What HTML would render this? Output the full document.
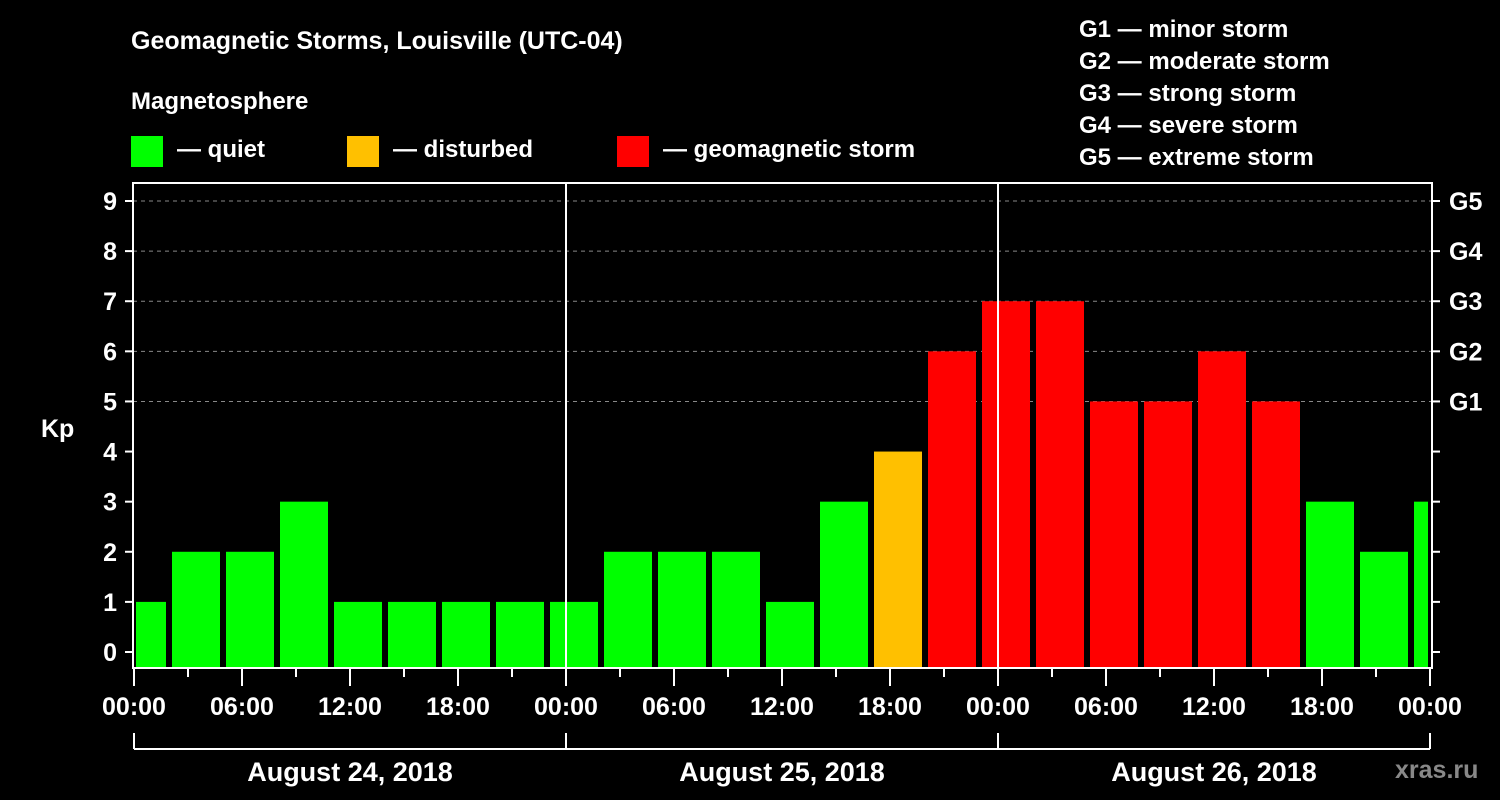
<!DOCTYPE html>
<html><head><meta charset="utf-8"><style>
body{margin:0;background:#000;}
svg{display:block;font-family:"Liberation Sans",sans-serif;font-weight:bold;}
</style></head><body>
<svg id="c" width="1500" height="800" viewBox="0 0 1500 800">
<rect width="1500" height="800" fill="#000"/>
<text x="131" y="49" fill="#fff" font-size="25">Geomagnetic Storms, Louisville (UTC-04)</text>
<text x="131" y="109" fill="#fff" font-size="24">Magnetosphere</text>
<g><rect x="131" y="136" width="32" height="31" fill="#00ff00"/><text x="177" y="157" fill="#fff" font-size="24">— quiet</text></g>
<g><rect x="347" y="136" width="32" height="31" fill="#ffc000"/><text x="393" y="157" fill="#fff" font-size="24">— disturbed</text></g>
<g><rect x="617" y="136" width="32" height="31" fill="#ff0000"/><text x="663" y="157" fill="#fff" font-size="24">— geomagnetic storm</text></g>
<g fill="#fff" font-size="24">
<text x="1079" y="37">G1 — minor storm</text>
<text x="1079" y="69">G2 — moderate storm</text>
<text x="1079" y="101">G3 — strong storm</text>
<text x="1079" y="133">G4 — severe storm</text>
<text x="1079" y="165">G5 — extreme storm</text>
</g>
<text x="41" y="437" fill="#fff" font-size="25">Kp</text>
<text x="1395" y="778" fill="#888" font-size="25">xras.ru</text>
<g id="plot"></g>
</svg>
<script>
const kpValues=[1,2,2,3,1,1,1,1,1,2,2,2,1,3,4,6,7,7,5,5,6,5,3,2,3];
const timeTickLabels=["00:00","06:00","12:00","18:00","00:00","06:00","12:00","18:00","00:00","06:00","12:00","18:00","00:00"];
const dayLabels=["August 24, 2018","August 25, 2018","August 26, 2018"];
const gLabels=["G1","G2","G3","G4","G5"];
const NS="http://www.w3.org/2000/svg";
const g=document.getElementById('plot');
const L=133,R=1432,T=183,B=668;
const x=h=>134+h*(1430-134)/72;
const y=k=>652-k*(652-201)/9;
function mk(t,a){const e=document.createElementNS(NS,t);for(const k in a)e.setAttribute(k,a[k]);g.appendChild(e);return e;}
// grid
for(let k=5;k<=9;k++){const e=mk('line',{x1:L,x2:R,y1:y(k),y2:y(k),stroke:'#888','stroke-dasharray':'4,4','stroke-width':1});

}
// bars
kpValues.forEach((v,i)=>{
 let x0=x(i*3-1)+2,x1=x(i*3+2)-4;
 x0=Math.max(x0,136);x1=Math.min(x1,1428);
 const col=v>=5?'#ff0000':(v>=4?'#ffc000':'#00ff00');
 const e=mk('rect',{x:x0,y:y(v),width:x1-x0,height:B-y(v),fill:col});
 
 
});
// frame
const f=mk('rect',{x:L,y:T,width:R-L,height:B-T,fill:'none',stroke:'#fff','stroke-width':2});


[1,2].forEach(d=>{const e=mk('line',{x1:x(d*24),x2:x(d*24),y1:T,y2:B,stroke:'#fff','stroke-width':2});

});
// y ticks
for(let k=0;k<=9;k++){
 mk('line',{x1:L-8,x2:L,y1:y(k),y2:y(k),stroke:'#fff','stroke-width':2});
 mk('line',{x1:R,x2:R+8,y1:y(k),y2:y(k),stroke:'#fff','stroke-width':2});
 const t=mk('text',{x:117,y:y(k)+9,fill:'#fff','font-size':25,'text-anchor':'end'});t.textContent=k;
 
 
 if(k>=5){const r=mk('text',{x:1449,y:y(k)+9,fill:'#fff','font-size':25});r.textContent=gLabels[k-5];
 
 }
}
// x ticks
for(let h=0;h<=72;h+=3){
 const long=h%6===0;
 mk('line',{x1:x(h),x2:x(h),y1:B,y2:B+(long?18:9),stroke:'#fff','stroke-width':2});
}
timeTickLabels.forEach((s,i)=>{const t=mk('text',{x:x(i*6),y:715,fill:'#fff','font-size':25,'text-anchor':'middle'});t.textContent=s;

});
// day brackets
mk('line',{x1:x(0),x2:x(72),y1:749,y2:749,stroke:'#fff','stroke-width':2});
for(let d=0;d<=3;d++)mk('line',{x1:x(d*24),x2:x(d*24),y1:733,y2:749,stroke:'#fff','stroke-width':2});
dayLabels.forEach((s,i)=>{const t=mk('text',{x:x(i*24+12),y:781,fill:'#fff','font-size':27,'text-anchor':'middle'});t.textContent=s;

});
</script>
</body></html>
